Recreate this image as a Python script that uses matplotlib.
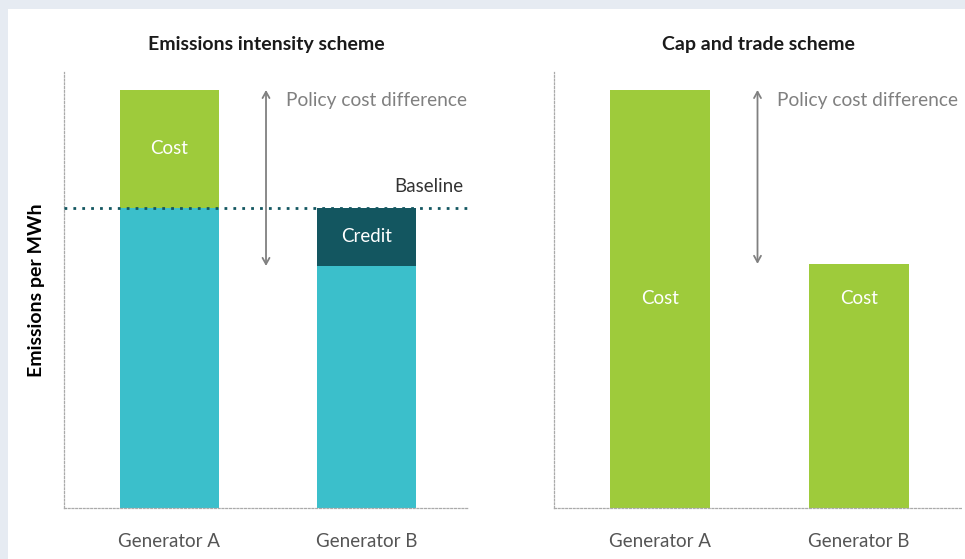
import matplotlib
matplotlib.use("Agg")
import matplotlib.pyplot as plt
from matplotlib.patches import Rectangle

plt.rcParams['font.family'] = ['Lato', 'DejaVu Sans']

generators = ["Generator A", "Generator B"]
# emissions per MWh (arbitrary units)
emissions = [10.0, 5.79]
baseline = 7.18
cap_emissions = [10.0, 5.84]

teal = "#3bbfcb"
green = "#9ecb3b"
dark = "#135660"
grey = "#808080"

fig = plt.figure(figsize=(9.65, 5.59), dpi=100, facecolor="#e6ebf2")
fig.patches.append(Rectangle((8 / 965, 0), 1, 1 - 9 / 559, transform=fig.transFigure,
                             facecolor="white", edgecolor="none", zorder=-10))

ax1 = fig.add_axes([64 / 965, 51 / 559, 405 / 965, 436 / 559])
ax2 = fig.add_axes([554 / 965, 51 / 559, 408 / 965, 436 / 559])

x = [0, 1]
w = 0.505

for ax in (ax1, ax2):
    ax.set_facecolor("none")
    ax.set_xlim(-0.535, 1.52)
    ax.set_ylim(0, 10.43)
    for s in ("top", "right"):
        ax.spines[s].set_visible(False)
    for s in ("left", "bottom"):
        ax.spines[s].set_linestyle((0, (1.5, 1.5)))
        ax.spines[s].set_color("#aaaaaa")
        ax.spines[s].set_linewidth(0.9)
    ax.set_yticks([])
    ax.set_xticks(x)
    ax.set_xticklabels(generators, fontsize=13.5, color="#555555")
    ax.tick_params(axis="x", length=0, pad=18)

# emissions intensity scheme
ax1.bar(x, [min(e, baseline) for e in emissions], width=w, color=teal, zorder=2)
ax1.bar(x[0], emissions[0] - baseline, bottom=baseline, width=w, color=green, zorder=2)
ax1.bar(x[1], baseline - emissions[1], bottom=emissions[1], width=w, color=dark, zorder=2)
ax1.axhline(baseline, color=dark, linestyle=(0, (1, 2.2)), linewidth=2, zorder=3)
ax1.text(x[0], (emissions[0] + baseline) / 2, "Cost", color="white", fontsize=13.5,
         ha="center", va="center", zorder=4)
ax1.text(x[1], (emissions[1] + baseline) / 2, "Credit", color="white", fontsize=13.5,
         ha="center", va="center", zorder=4)
ax1.text(1.49, baseline + 0.5, "Baseline", color="#333333", fontsize=13.5,
         ha="right", va="center")
ax1.set_title("Emissions intensity scheme", fontsize=14, fontweight="bold",
              color="#1a1a1a", pad=16)
ax1.set_ylabel("Emissions per MWh", fontsize=14, fontweight="bold", labelpad=14)

# cap and trade scheme
ax2.bar(x, cap_emissions, width=w, color=green, zorder=2)
for xi in x:
    ax2.text(xi, 5.0, "Cost", color="white", fontsize=13.5, ha="center", va="center", zorder=4)
ax2.set_title("Cap and trade scheme", fontsize=14, fontweight="bold",
              color="#1a1a1a", pad=16)

for ax, low in ((ax1, emissions[1]), (ax2, cap_emissions[1])):
    ax.annotate("", xy=(0.49, emissions[0]), xytext=(0.49, low),
                arrowprops=dict(arrowstyle="<->,head_length=0.45,head_width=0.25",
                                color=grey, lw=1.3, shrinkA=0, shrinkB=0))
    ax.text(0.59, 9.76, "Policy cost difference", color=grey, fontsize=13.8,
            ha="left", va="center")

fig.savefig("out.png", dpi=100, facecolor=fig.get_facecolor())
